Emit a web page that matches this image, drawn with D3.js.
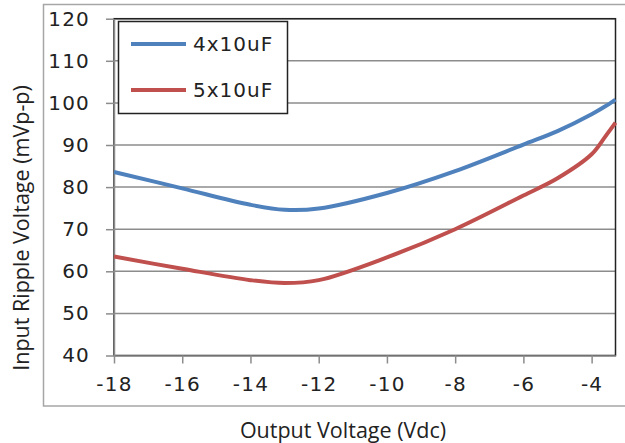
<!DOCTYPE html>
<meta charset="utf-8">
<style>
    body { margin: 0; background: #fff; }
    .tick text { font-family: "DejaVu Sans", sans-serif; font-size: 20px; letter-spacing: 1.2px; fill: #222; }
    .title { font-family: "Open Sans", sans-serif; font-size: 21.5px; fill: #222; }
    .legend text { font-family: "DejaVu Sans", sans-serif; font-size: 20px; letter-spacing: 1px; fill: #222; }
</style>
<svg width="625" height="443"></svg>
<script src="https://d3js.org/d3.v7.min.js"></script>
<script>
    // data
    var outputVoltage = [-18, -16, -14, -13, -12, -10, -8, -6, -5, -4, -3.6, -3.3];
    var ripple4x10 = [83.6, 79.7, 75.8, 74.6, 74.9, 78.6, 83.8, 90.1, 93.3, 97.3, 99.2, 100.8];
    var ripple5x10 = [63.5, 60.6, 57.9, 57.2, 57.9, 63.3, 70.0, 78.0, 82.1, 87.8, 92.0, 95.3];
    var seriesNames = ["4x10uF", "5x10uF"];
    var seriesColors = ["#4f81bd", "#c0504d"];
    var xTicks = [-18, -16, -14, -12, -10, -8, -6, -4];
    var yTicks = [40, 50, 60, 70, 80, 90, 100, 110, 120];

    var svg = d3.select("svg");

    var plotLeft = 114, plotRight = 615.5, plotTop = 18.7, plotBottom = 355.5;

    var x = d3.scaleLinear().domain([-18, -3.3]).range([plotLeft, plotRight]);
    var y = d3.scaleLinear().domain([40, 120]).range([plotBottom, plotTop]);

    // outer chart border
    svg.append("rect")
        .attr("x", 43.5).attr("y", 4.5)
        .attr("width", 640).attr("height", 401.5)
        .attr("fill", "none")
        .attr("stroke", "#a6a6a6")
        .attr("stroke-width", 1.5);

    // gridlines
    svg.append("g")
        .selectAll("line")
        .data(yTicks.slice(1))
        .enter().append("line")
        .attr("x1", plotLeft).attr("x2", plotRight)
        .attr("y1", function(d) { return y(d); })
        .attr("y2", function(d) { return y(d); })
        .attr("stroke", "#8c8c8c")
        .attr("stroke-width", 1.5);

    // plot area frame
    svg.append("rect")
        .attr("x", plotLeft).attr("y", plotTop)
        .attr("width", plotRight - plotLeft).attr("height", plotBottom - plotTop)
        .attr("fill", "none")
        .attr("stroke", "#222")
        .attr("stroke-width", 1.5);

    var fmt = function(d) { return String(d); };

    var yAxis = svg.append("g")
        .attr("transform", "translate(" + plotLeft + ",0)")
        .call(d3.axisLeft(y).tickValues(yTicks).tickFormat(fmt)
            .tickSize(8).tickSizeOuter(0).tickPadding(16));

    var xAxis = svg.append("g")
        .attr("transform", "translate(0," + plotBottom + ")")
        .call(d3.axisBottom(x).tickValues(xTicks).tickFormat(fmt)
            .tickSize(8).tickSizeOuter(0).tickPadding(13));

    [yAxis, xAxis].forEach(function(a) {
        a.select(".domain").attr("stroke", "#8c8c8c").attr("stroke-width", 1.5);
        a.selectAll(".tick line").attr("stroke", "#8c8c8c").attr("stroke-width", 1.5);
    });

    var line = d3.line()
        .x(function(d) { return x(d[0]); })
        .y(function(d) { return y(d[1]); })
        .curve(d3.curveCatmullRom.alpha(0.5));

    [ripple4x10, ripple5x10].forEach(function(vals, i) {
        svg.append("path")
            .datum(outputVoltage.map(function(v, j) { return [v, vals[j]]; }))
            .attr("fill", "none")
            .attr("stroke", seriesColors[i])
            .attr("stroke-width", 4)
            .attr("d", line);
    });

    // legend
    var legend = svg.append("g").attr("class", "legend");
    legend.append("rect")
        .attr("x", 118.5).attr("y", 21.5)
        .attr("width", 169).attr("height", 92)
        .attr("fill", "#fff")
        .attr("stroke", "#222")
        .attr("stroke-width", 1.5);

    seriesNames.forEach(function(name, i) {
        var ly = 44 + i * 46;
        legend.append("line")
            .attr("x1", 131).attr("x2", 186)
            .attr("y1", ly).attr("y2", ly)
            .attr("stroke", seriesColors[i])
            .attr("stroke-width", 4);
        legend.append("text")
            .attr("x", 193).attr("y", ly + 7)
            .text(name);
    });

    // axis titles
    svg.append("text")
        .attr("class", "title")
        .attr("x", 343).attr("y", 438)
        .attr("text-anchor", "middle")
        .text("Output Voltage (Vdc)");

    svg.append("text")
        .attr("class", "title")
        .attr("transform", "translate(29,228) rotate(-90)")
        .attr("text-anchor", "middle")
        .text("Input Ripple Voltage (mVp-p)");
</script>
